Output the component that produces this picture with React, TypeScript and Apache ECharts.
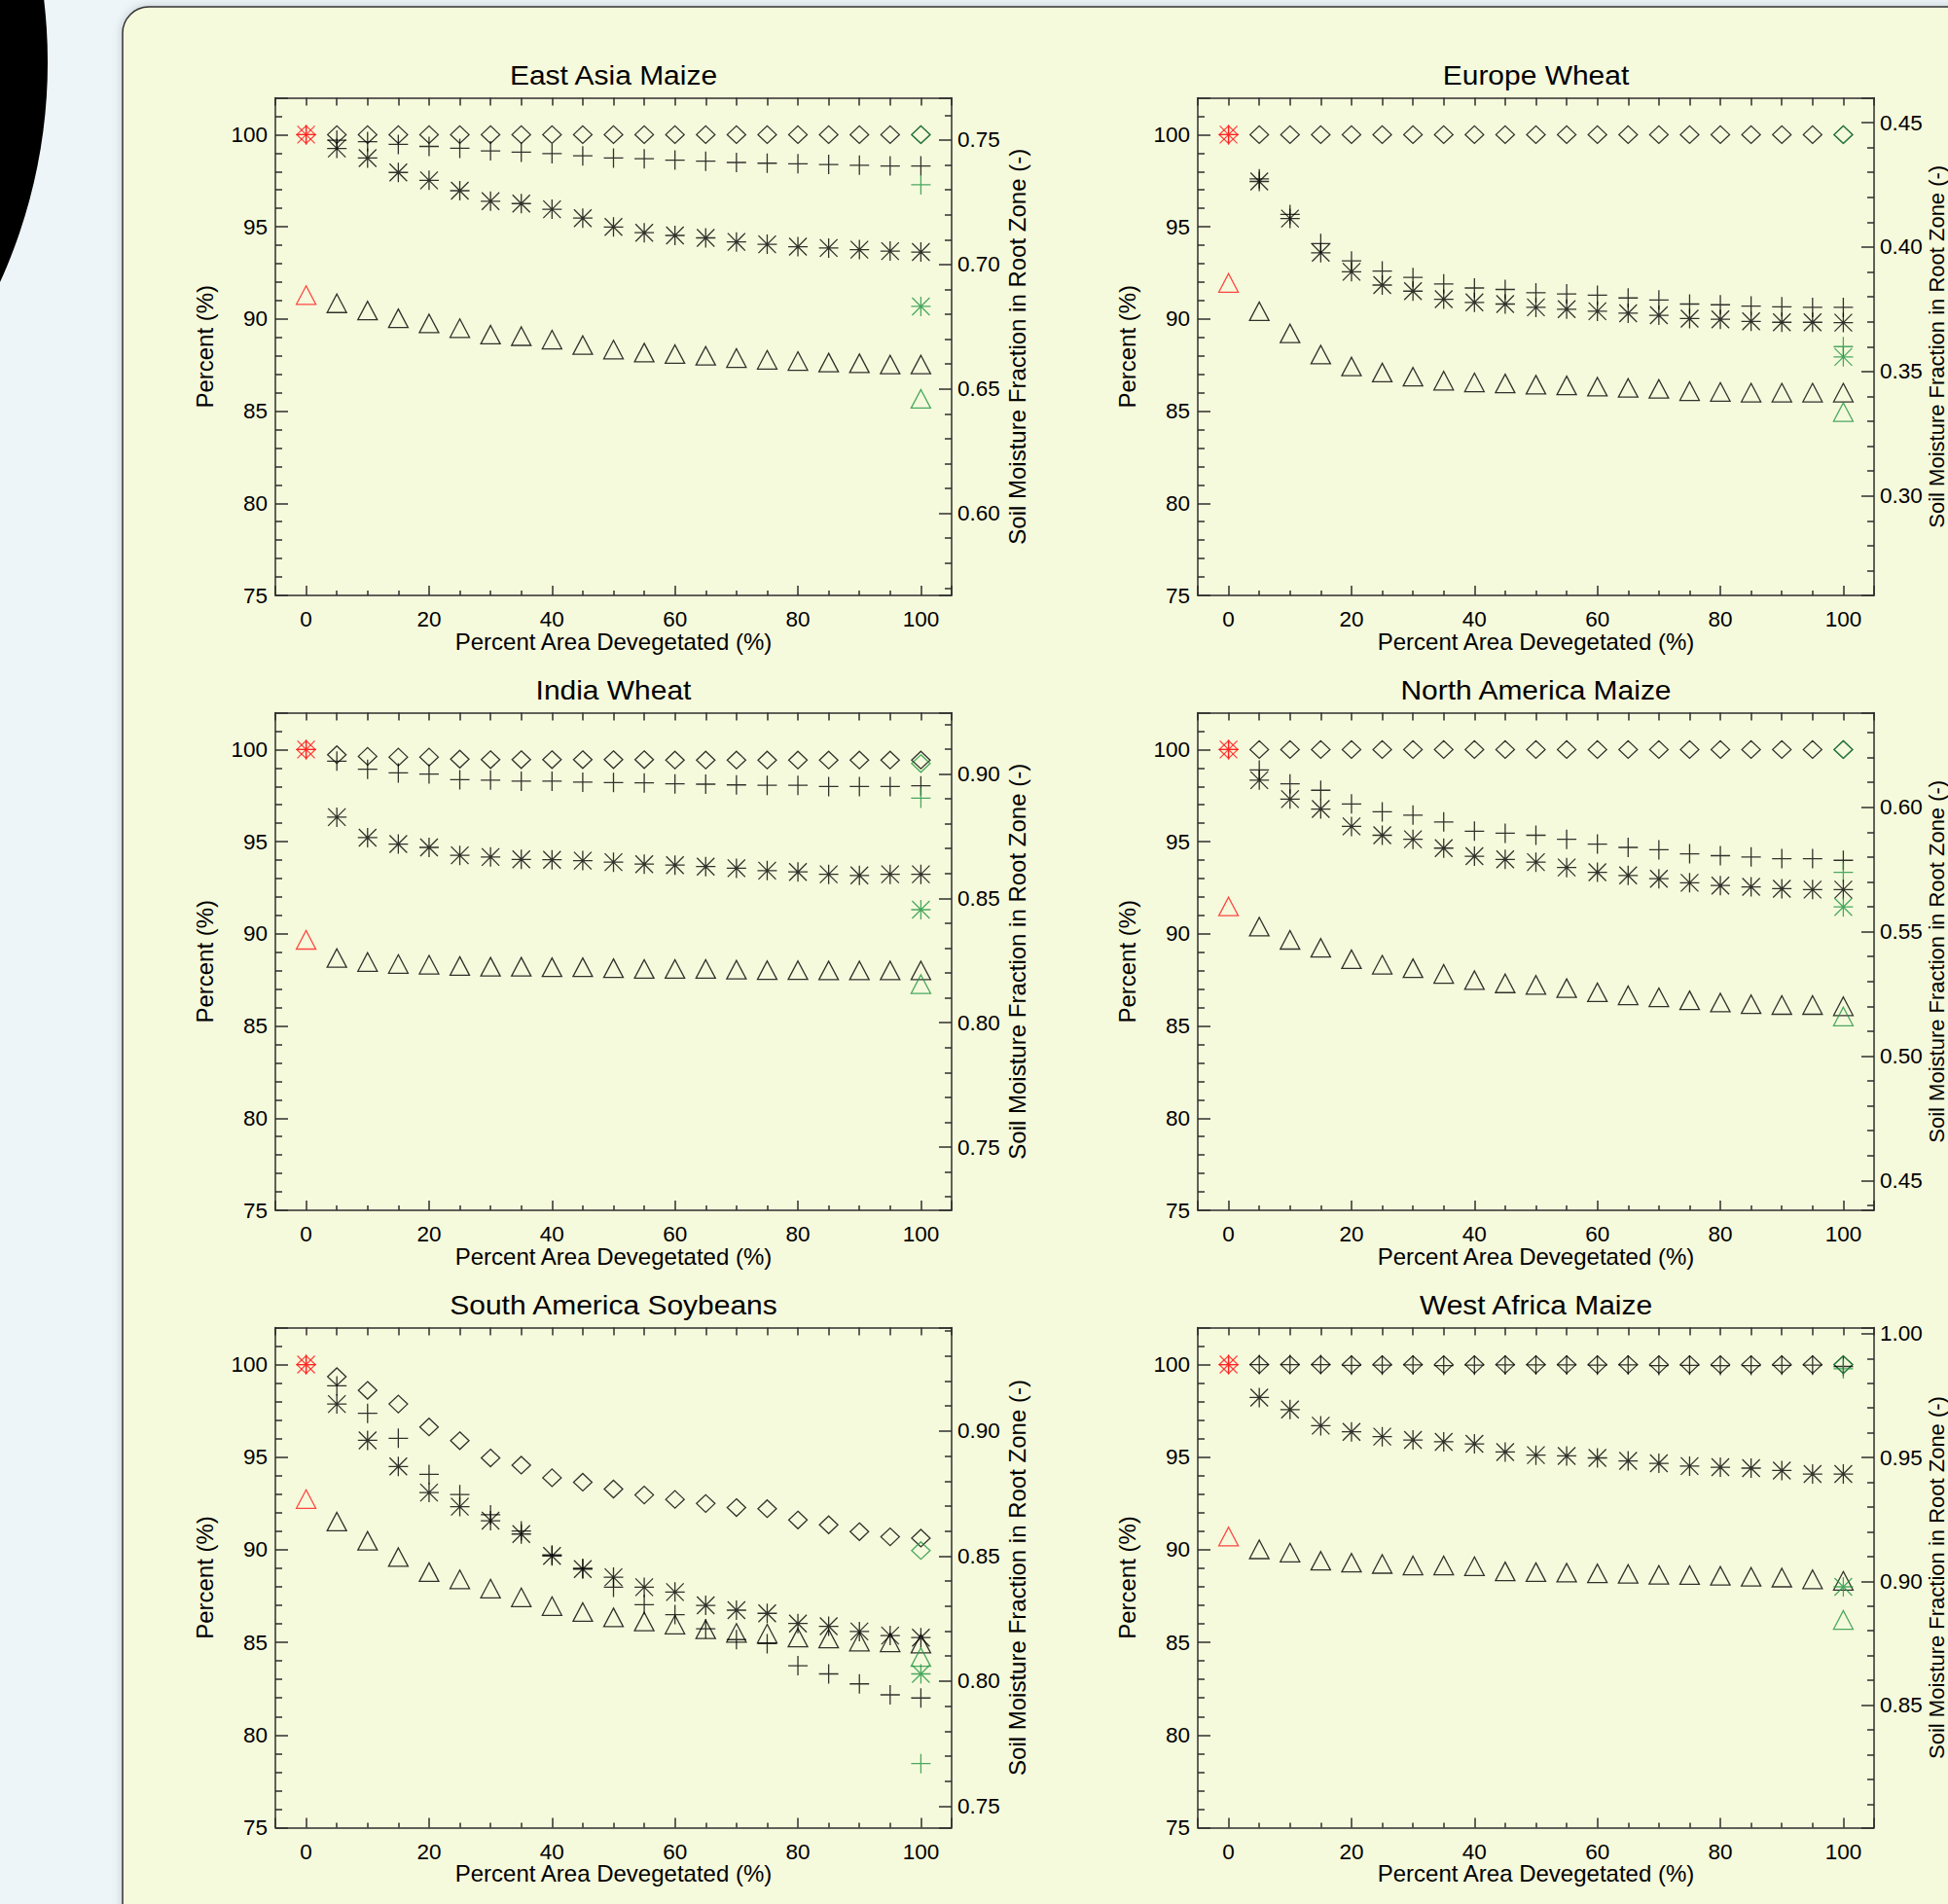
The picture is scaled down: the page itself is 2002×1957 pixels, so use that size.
import React, { useEffect, useRef } from 'react';
import * as echarts from 'echarts';

// ---------- data ----------
const xPct = [5, 10, 15, 20, 25, 30, 35, 40, 45, 50, 55, 60, 65, 70, 75, 80, 85, 90, 95, 100];
const startX = 0;
const endX = 100;

// order in Start/End arrays: diamond, plus, asterisk, triangle
const eastAsiaDiamond = [100, 100, 100, 100, 100, 100, 100, 100, 100, 100, 100, 100, 100, 100, 100, 100, 100, 100, 100, 100];
const eastAsiaPlus = [99.7, 99.62, 99.47, 99.36, 99.26, 99.12, 99.05, 98.97, 98.85, 98.73, 98.69, 98.62, 98.56, 98.49, 98.45, 98.42, 98.38, 98.34, 98.3, 98.3];
const eastAsiaAsterisk = [99.25, 98.73, 97.95, 97.52, 96.96, 96.39, 96.26, 95.95, 95.47, 94.99, 94.68, 94.53, 94.4, 94.18, 94.05, 93.92, 93.85, 93.76, 93.68, 93.63];
const eastAsiaTriangle = [0.6844, 0.6815, 0.6784, 0.6763, 0.6744, 0.6718, 0.6712, 0.6698, 0.6676, 0.6658, 0.6646, 0.664, 0.6633, 0.6624, 0.6617, 0.6612, 0.6606, 0.6603, 0.6598, 0.6598];
const eastAsiaStart = [100, 100, 100, 0.6877];
const eastAsiaEnd = [100, 97.28, 90.68, 0.646];

const europeDiamond = [100, 100, 100, 100, 100, 100, 100, 100, 100, 100, 100, 100, 100, 100, 100, 100, 100, 100, 100, 100];
const europePlus = [97.6, 95.67, 94.09, 93.15, 92.6, 92.25, 91.9, 91.68, 91.6, 91.42, 91.36, 91.29, 91.14, 91.03, 90.81, 90.77, 90.7, 90.66, 90.63, 90.63];
const europeAsterisk = [97.46, 95.45, 93.59, 92.56, 91.84, 91.51, 91.07, 90.9, 90.81, 90.63, 90.53, 90.42, 90.31, 90.2, 90.02, 89.98, 89.87, 89.82, 89.82, 89.8];
const europeTriangle = [0.3742, 0.3653, 0.3568, 0.352, 0.3496, 0.3479, 0.3463, 0.3456, 0.3452, 0.3447, 0.3444, 0.3439, 0.3434, 0.343, 0.3421, 0.3418, 0.3415, 0.3415, 0.3415, 0.3415];
const europeStart = [100, 100, 100, 0.3856];
const europeEnd = [100, 88.5, 87.94, 0.3337];

const indiaDiamond = [99.72, 99.63, 99.59, 99.59, 99.48, 99.45, 99.45, 99.45, 99.45, 99.45, 99.45, 99.43, 99.43, 99.43, 99.43, 99.43, 99.43, 99.43, 99.43, 99.43];
const indiaPlus = [99.37, 98.93, 98.73, 98.67, 98.36, 98.34, 98.28, 98.28, 98.23, 98.21, 98.19, 98.14, 98.12, 98.08, 98.06, 98.06, 97.99, 97.99, 97.99, 98.03];
const indiaAsterisk = [96.33, 95.22, 94.87, 94.69, 94.26, 94.17, 94.04, 94.02, 93.97, 93.89, 93.78, 93.73, 93.65, 93.56, 93.43, 93.36, 93.23, 93.17, 93.23, 93.23];
const indiaTriangle = [0.826, 0.8244, 0.8236, 0.8233, 0.8228, 0.8225, 0.8225, 0.8223, 0.8223, 0.8219, 0.8216, 0.8216, 0.8216, 0.8213, 0.8211, 0.8211, 0.821, 0.821, 0.821, 0.821];
const indiaStart = [100, 100, 100, 0.8333];
const indiaEnd = [99.24, 97.36, 91.31, 0.8155];

const northAmericaDiamond = [100, 100, 100, 100, 100, 100, 100, 100, 100, 100, 100, 100, 100, 100, 100, 100, 100, 100, 100, 100];
const northAmericaPlus = [98.89, 98.14, 97.79, 97.05, 96.62, 96.44, 96.07, 95.57, 95.46, 95.35, 95.13, 94.87, 94.69, 94.56, 94.34, 94.24, 94.17, 94.08, 94.08, 93.99];
const northAmericaAsterisk = [98.34, 97.31, 96.77, 95.83, 95.35, 95.13, 94.65, 94.21, 94.04, 93.89, 93.6, 93.34, 93.17, 92.99, 92.77, 92.62, 92.55, 92.45, 92.4, 92.4];
const northAmericaTriangle = [0.552, 0.5467, 0.5435, 0.5389, 0.5367, 0.5353, 0.533, 0.5305, 0.5292, 0.5286, 0.5273, 0.5256, 0.5244, 0.5236, 0.5224, 0.5215, 0.5208, 0.5205, 0.5205, 0.52];
const northAmericaStart = [100, 100, 100, 0.5601];
const northAmericaEnd = [100, 93.34, 91.46, 0.5159];

const southAmericaDiamond = [99.35, 98.61, 97.87, 96.63, 95.89, 94.96, 94.57, 93.89, 93.65, 93.28, 92.96, 92.72, 92.5, 92.28, 92.22, 91.61, 91.35, 90.98, 90.7, 90.63];
const southAmericaPlus = [98.85, 97.37, 96.02, 94.07, 92.98, 91.89, 91.02, 89.72, 89.0, 87.98, 87.04, 86.5, 85.74, 85.15, 84.93, 83.74, 83.3, 82.76, 82.17, 82.0];
const southAmericaAsterisk = [97.87, 95.91, 94.5, 93.09, 92.33, 91.57, 90.85, 89.67, 88.96, 88.52, 87.98, 87.72, 87.0, 86.74, 86.57, 86.02, 85.87, 85.59, 85.37, 85.26];
const southAmericaTriangle = [0.8638, 0.8561, 0.8496, 0.8436, 0.8407, 0.837, 0.8335, 0.83, 0.8276, 0.8255, 0.8238, 0.8226, 0.8207, 0.8193, 0.819, 0.8174, 0.817, 0.8158, 0.8155, 0.815];
const southAmericaStart = [100, 100, 100, 0.8728];
const southAmericaEnd = [89.96, 78.46, 83.3, 0.8096];

const westAfricaDiamond = [100, 100, 100, 100, 100, 100, 100, 100, 100, 100, 100, 100, 100, 100, 100, 100, 100, 100, 100, 100];
const westAfricaPlus = [100, 100, 100, 99.96, 99.97, 99.98, 99.95, 99.97, 99.98, 99.98, 99.98, 99.97, 99.98, 99.95, 99.96, 99.95, 99.95, 99.96, 99.97, 99.9];
const westAfricaAsterisk = [98.22, 97.57, 96.7, 96.37, 96.11, 95.93, 95.83, 95.72, 95.28, 95.11, 95.07, 94.96, 94.8, 94.67, 94.52, 94.46, 94.41, 94.28, 94.09, 94.09];
const westAfricaTriangle = [0.9129, 0.9116, 0.9083, 0.9075, 0.907, 0.9064, 0.9064, 0.9061, 0.904, 0.9037, 0.9035, 0.9032, 0.903, 0.9026, 0.9025, 0.9022, 0.9018, 0.9015, 0.9008, 0.9002];
const westAfricaStart = [100, 100, 100, 0.9181];
const westAfricaEnd = [100, 99.77, 88.0, 0.8844];

const panelTitles = ['East Asia Maize', 'Europe Wheat', 'India Wheat', 'North America Maize', 'South America Soybeans', 'West Africa Maize'];
const rightRanges = [[0.567, 0.767], [0.26, 0.46], [0.7246, 0.9246], [0.438, 0.638], [0.7414, 0.9414], [0.8005, 1.0025]];
const leftRange = [75, 102];
const xRange = [-5, 105];

const panelData = [
  [eastAsiaDiamond, eastAsiaPlus, eastAsiaAsterisk, eastAsiaTriangle, eastAsiaStart, eastAsiaEnd],
  [europeDiamond, europePlus, europeAsterisk, europeTriangle, europeStart, europeEnd],
  [indiaDiamond, indiaPlus, indiaAsterisk, indiaTriangle, indiaStart, indiaEnd],
  [northAmericaDiamond, northAmericaPlus, northAmericaAsterisk, northAmericaTriangle, northAmericaStart, northAmericaEnd],
  [southAmericaDiamond, southAmericaPlus, southAmericaAsterisk, southAmericaTriangle, southAmericaStart, southAmericaEnd],
  [westAfricaDiamond, westAfricaPlus, westAfricaAsterisk, westAfricaTriangle, westAfricaStart, westAfricaEnd],
];

// ---------- styling ----------
const FONT = '"Liberation Sans", Arial, Helvetica, sans-serif';
const RED = '#ff1a1a';
const GREEN = '#1f9341';
const AXIS = '#2e2e2e';
const SYMBOLS = [
  { path: 'path://M0,-1L1,0L0,1L-1,0Z', size: [19, 18] },
  { path: 'path://M0,-1L0,1M-1,0L1,0', size: [20, 20] },
  { path: 'path://M0,-1L0,1M-1,0L1,0M-0.9,-0.9L0.9,0.9M-0.9,0.9L0.9,-0.9', size: [20, 20] },
  { path: 'path://M0,-1L1,1L-1,1Z', size: [20, 19] },
];
const colLeft = [283, 1231];
const rowTop = [100.5, 732.5, 1364.5];
const rowHeight = [511.5, 511.5, 514];
const gridWidth = 695;

function buildOption() {
  const grid: any[] = [];
  const xAxis: any[] = [];
  const yAxis: any[] = [];
  const series: any[] = [];
  const graphics: any[] = [
    {
      type: 'rect',
      z: -10,
      shape: { x: 126, y: 7, width: 2200, height: 2200, r: 27 },
      style: { fill: '#f6fadc', stroke: '#333', lineWidth: 1.5, shadowBlur: 10, shadowColor: 'rgba(0,0,0,0.18)' },
    },
    {
      type: 'ring',
      z: -10,
      shape: { cx: -497, cy: 64, r: 546, r0: 490 },
      style: { fill: '#000' },
    },
  ];
  const lineStyle = { color: AXIS, width: 1.5 };

  panelTitles.forEach((title, i) => {
    const col = i % 2;
    const row = Math.floor(i / 2);
    const left = colLeft[col];
    const top = rowTop[row];
    const height = rowHeight[row];
    grid.push({ left, top, width: gridWidth, height, containLabel: false, outerBoundsMode: 'none', show: false });

    graphics.push({
      type: 'text',
      x: left + gridWidth / 2,
      y: top - 23,
      scaleX: 1.09,
      style: {
        text: title,
        fill: '#000',
        fontSize: 27.5,
        fontFamily: FONT,
        align: 'center',
        verticalAlign: 'middle',
      },
    });

    xAxis.push({
      type: 'value',
      gridIndex: i,
      position: 'bottom',
      min: xRange[0],
      max: xRange[1],
      minInterval: 20,
      maxInterval: 20,
      axisLine: { show: true, onZero: false, lineStyle },
      axisTick: { show: true, inside: true, length: 10, lineStyle },
      minorTick: { show: true, splitNumber: 4, length: 5, lineStyle },
      splitLine: { show: false },
      minorSplitLine: { show: false },
      axisLabel: {
        show: true,
        margin: 13,
        fontSize: 22.5,
        fontFamily: FONT,
        color: '#000',
        formatter: (v: number) => (v >= 0 && v <= 100 && Math.abs(v % 20) < 1e-6 ? String(Math.round(v)) : ''),
      },
      name: 'Percent Area Devegetated (%)',
      nameLocation: 'middle',
      nameGap: 35,
      nameMoveOverlap: false,
      nameTextStyle: { fontSize: 24, fontFamily: FONT, color: '#000' },
    });
    xAxis.push({
      type: 'value',
      gridIndex: i,
      position: 'top',
      min: xRange[0],
      max: xRange[1],
      interval: 5,
      axisLine: { show: true, onZero: false, lineStyle },
      axisTick: { show: true, inside: true, length: 8, lineStyle },
      splitLine: { show: false },
      axisLabel: { show: false },
    });

    yAxis.push({
      type: 'value',
      gridIndex: i,
      position: 'left',
      min: leftRange[0],
      max: leftRange[1],
      minInterval: 5,
      maxInterval: 5,
      axisLine: { show: true, onZero: false, lineStyle },
      axisTick: { show: true, inside: true, length: 13, lineStyle },
      minorTick: { show: true, splitNumber: 5, length: 7, lineStyle },
      splitLine: { show: false },
      minorSplitLine: { show: false },
      axisLabel: {
        show: true,
        margin: 8,
        fontSize: 22.5,
        fontFamily: FONT,
        color: '#000',
        formatter: (v: number) => (Math.abs(v % 5) < 1e-6 ? String(Math.round(v)) : ''),
      },
      name: 'Percent (%)',
      nameLocation: 'middle',
      nameGap: 61,
      nameMoveOverlap: false,
      nameTextStyle: { fontSize: 24, fontFamily: FONT, color: '#000' },
    });
    yAxis.push({
      type: 'value',
      gridIndex: i,
      position: 'right',
      min: rightRanges[i][0],
      max: rightRanges[i][1],
      minInterval: 0.05,
      maxInterval: 0.05,
      splitNumber: 4,
      axisLine: { show: true, onZero: false, lineStyle },
      axisTick: { show: true, inside: true, length: 13, lineStyle },
      minorTick: { show: true, splitNumber: 5, length: 7, lineStyle },
      splitLine: { show: false },
      minorSplitLine: { show: false },
      axisLabel: {
        show: true,
        margin: 6,
        fontSize: 22.5,
        fontFamily: FONT,
        color: '#000',
        formatter: (v: number) => (Math.abs(v * 20 - Math.round(v * 20)) < 1e-6 ? v.toFixed(2) : ''),
      },
      name: 'Soil Moisture Fraction in Root Zone (-)',
      nameLocation: 'middle',
      nameGap: col === 0 ? 55 : 53,
      nameMoveOverlap: false,
      nameTextStyle: { fontSize: col === 0 ? 24 : 22, fontFamily: FONT, color: '#000' },
    });

    const d = panelData[i];
    const start = d[4];
    const end = d[5];
    // draw order: triangle, diamond, plus, asterisk
    [3, 0, 1, 2].forEach((k) => {
      const values = d[k];
      const data: any[] = [];
      data.push({ value: [startX, start[k]], itemStyle: { borderColor: RED } });
      xPct.forEach((x, j) => data.push([x, values[j]]));
      data.push({ value: [endX, end[k]], itemStyle: { borderColor: GREEN } });
      series.push({
        type: 'scatter',
        xAxisIndex: 2 * i,
        yAxisIndex: k === 3 ? 2 * i + 1 : 2 * i,
        symbol: SYMBOLS[k].path,
        symbolSize: SYMBOLS[k].size,
        symbolKeepAspect: false,
        silent: true,
        clip: false,
        itemStyle: { color: 'rgba(0,0,0,0)', borderColor: '#000', borderWidth: 1.3 },
        emphasis: { disabled: true },
        data,
      });
    });
  });

  return {
    animation: false,
    backgroundColor: '#edf5f9',
    textStyle: { fontFamily: FONT },
    grid,
    xAxis,
    yAxis,
    series,
    graphic: { elements: graphics },
  };
}

export default function App() {
  const ref = useRef<HTMLDivElement>(null);
  useEffect(() => {
    if (!ref.current) return;
    const chart = echarts.init(ref.current, undefined, { renderer: 'svg' });
    chart.setOption(buildOption() as any);
    return () => chart.dispose();
  }, []);
  return (
    <div
      ref={ref}
      style={{ position: 'absolute', left: 0, top: 0, width: 2002, height: 1957, overflow: 'hidden' }}
    />
  );
}
